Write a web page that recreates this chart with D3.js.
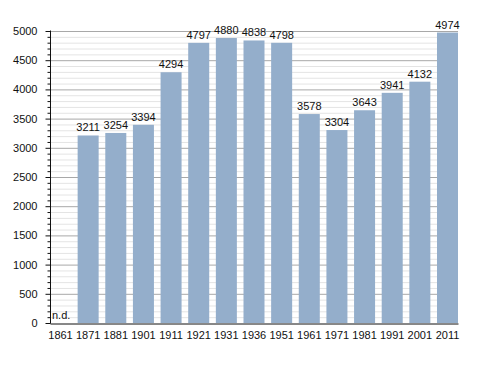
<!DOCTYPE html>
<html>
<head>
<meta charset="utf-8">
<script src="https://cdn.jsdelivr.net/npm/d3@7"></script>
<style>
    body { margin: 0; background: #fff; }
    text { font-family: "Liberation Sans", Arial, sans-serif; font-size: 11px; fill: #111; }
</style>
</head>
<body>
<svg id="chart" width="488" height="373"></svg>
<script>
// census years and population
let years = ["1861", "1871", "1881", "1901", "1911", "1921", "1931", "1936", "1951", "1961", "1971", "1981", "1991", "2001", "2011"];
let population = [null, 3211, 3254, 3394, 4294, 4797, 4880, 4838, 4798, 3578, 3304, 3643, 3941, 4132, 4974];
let yTicks = [0, 500, 1000, 1500, 2000, 2500, 3000, 3500, 4000, 4500, 5000];
let missingLabel = "n.d.";

let svg = d3.select("#chart");
let margin = {top: 31, left: 50, right: 30, bottom: 50};
let width = 458 - margin.left;
let height = 323 - margin.top;

let x = d3
    .scaleBand()
    .domain(years)
    .range([0, width])
    .paddingInner(0.24)
    .paddingOuter(0)
    .align(0);
let y = d3
    .scaleLinear()
    .domain([0, 5000])
    .range([height, 0]);

let g = svg
    .append("g")
    .attr("transform", "translate(" + margin.left + "," + margin.top + ")");

// minor grid every 100
let minor = d3.range(100, 5000, 100).filter((v) => v % 500 != 0);
g
    .selectAll(".minor")
    .data(minor)
    .enter()
    .append("line")
    .attr("x1", 0)
    .attr("x2", width)
    .attr("y1", (d) => y(d) + 0.5)
    .attr("y2", (d) => y(d) + 0.5)
    .attr("stroke", "#e4e4e4");

// major grid
g
    .selectAll(".major")
    .data(yTicks.slice(1))
    .enter()
    .append("line")
    .attr("x1", 0)
    .attr("x2", width)
    .attr("y1", (d) => y(d) + 0.5)
    .attr("y2", (d) => y(d) + 0.5)
    .attr("stroke", "#a8a8a8");

// bars
let data = years.map((yr, i) => ({year: yr, value: population[i]}));
g
    .selectAll(".bar")
    .data(data.filter((d) => d.value != null))
    .enter()
    .append("rect")
    .attr("x", (d) => x(d.year))
    .attr("y", (d) => y(d.value))
    .attr("width", x.bandwidth())
    .attr("height", (d) => height - y(d.value))
    .attr("fill", "#94aecb");

g
    .selectAll(".val")
    .data(data.filter((d) => d.value != null))
    .enter()
    .append("text")
    .attr("x", (d) => x(d.year) + x.bandwidth() / 2)
    .attr("y", (d) => y(d.value) - 4)
    .attr("text-anchor", "middle")
    .text((d) => d.value);

data.filter((d) => d.value == null).forEach((d) => {
    g
        .append("text")
        .attr("x", x(d.year) + 2)
        .attr("y", height - 4)
        .text(missingLabel);
});

// y axis with minor ticks
let yAxis = g.append("g").attr("transform", "translate(0.5,0)");
yAxis
    .selectAll(".mt")
    .data(minor)
    .enter()
    .append("line")
    .attr("x1", -3)
    .attr("x2", 0)
    .attr("y1", (d) => y(d) + 0.5)
    .attr("y2", (d) => y(d) + 0.5)
    .attr("stroke", "#111");
yAxis
    .call(d3.axisLeft(y).tickValues(yTicks).tickSize(5).tickPadding(8).tickFormat(d3.format("d")));
yAxis.select(".domain").attr("stroke", "#111").attr("d", "M0," + (y(5000) - 0.5) + "V" + (height + 0.5));
yAxis.selectAll(".tick line").attr("stroke", "#111");
yAxis.selectAll("text").style("font-size", "11px").attr("fill", "#111");

// x axis
let xAxis = g.append("g").attr("transform", "translate(0," + (height + 0.5) + ")");
xAxis.call(d3.axisBottom(x).tickSize(0).tickPadding(8));
xAxis.select(".domain").attr("stroke", "#111");
xAxis.selectAll("text").style("font-size", "11px").attr("fill", "#111");
</script>
</body>
</html>
